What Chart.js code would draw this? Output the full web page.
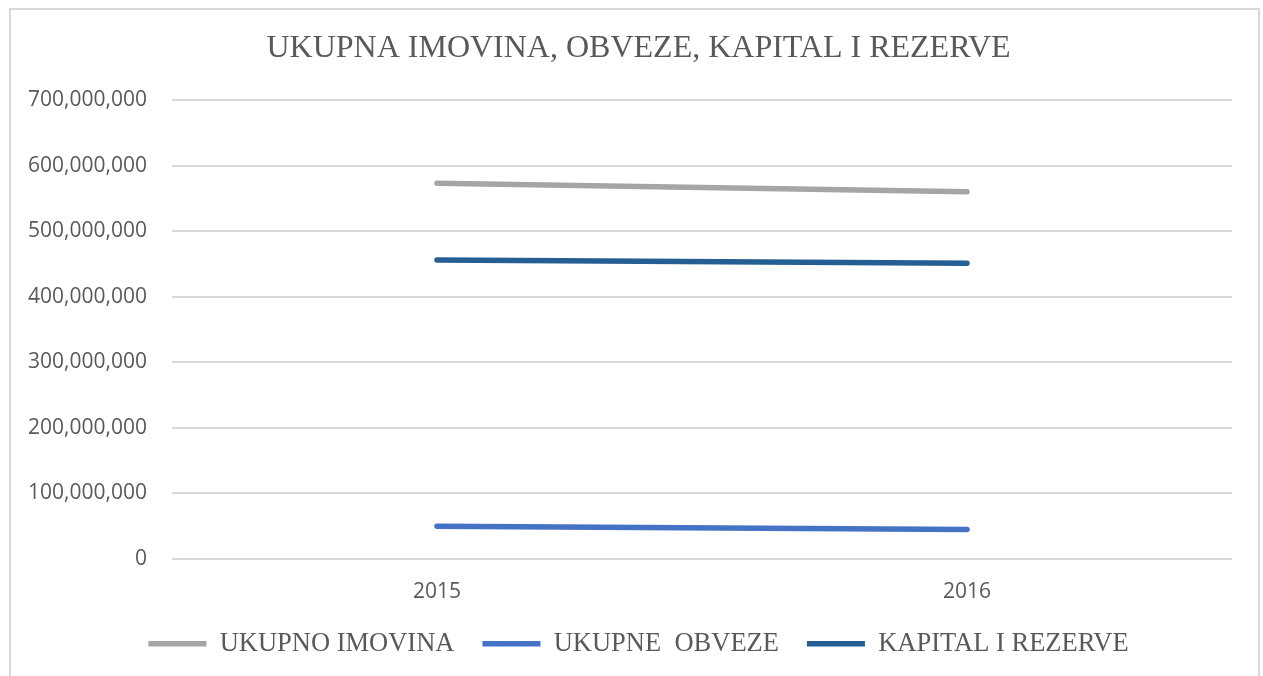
<!DOCTYPE html>
<html>
<head>
<meta charset="utf-8">
<script src="https://cdn.jsdelivr.net/npm/chart.js@4.4.0/dist/chart.umd.min.js"></script>
<style>
  body { margin: 0; background: #fff; }
  #wrap { position: absolute; left: 0; top: 0; width: 1263px; height: 676px; }
  #frame { position: absolute; left: 9px; top: 8px; width: 1251px; height: 720px;
           border: 2px solid #d9d9d9; box-sizing: border-box; pointer-events: none; }
</style>
</head>
<body>
<div id="wrap"><canvas id="chart"></canvas></div>
<div id="frame"></div>
<script>
const years = ['2015', '2016'];
const imovina = [573000000, 560000000];
const obveze = [50000000, 45000000];
const kapital = [456000000, 451000000];

const grey = '#595959';
const ctx = document.getElementById('chart');

new Chart(ctx, {
    type: 'line',
    data: {
        labels: years,
        datasets: [
            {
            label: 'UKUPNO IMOVINA',
            data: imovina,
            borderColor: '#a5a5a5',
            backgroundColor: '#a5a5a5',
            borderWidth: 5.5,
            borderCapStyle: 'round',
            pointRadius: 0,
            },
            {
            label: 'UKUPNE  OBVEZE',
            data: obveze,
            borderColor: '#4472c4',
            backgroundColor: '#4472c4',
            borderWidth: 5.5,
            borderCapStyle: 'round',
            pointRadius: 0,
            },
            {
            label: 'KAPITAL I REZERVE',
            data: kapital,
            borderColor: '#255e91',
            backgroundColor: '#255e91',
            borderWidth: 5.5,
            borderCapStyle: 'round',
            pointRadius: 0,
            }]
        },
    options: {
        responsive: true,
        maintainAspectRatio: false,
        animation: false,
        layout: {
            padding: { left: 14, right: 0, top: 0, bottom: 9 }
        },
        plugins: {
            title: {
                display: true,
                text: 'UKUPNA IMOVINA, OBVEZE, KAPITAL I REZERVE',
                color: grey,
                font: { family: 'Liberation Serif', size: 32, weight: 'normal' },
                padding: { top: 29, bottom: 32.6 }
            },
            legend: {
                position: 'bottom',
                labels: {
                    usePointStyle: true,
                    pointStyle: 'line',
                    pointStyleWidth: 58,
                    padding: 28,
                    color: grey,
                    font: { family: 'Liberation Serif', size: 26.5 }
                }
            },
            tooltip: { enabled: false }
        },
        scales: {
            x: {
                offset: true,
                grid: { display: false, drawTicks: false },
                border: { display: false },
                ticks: {
                    color: grey,
                    padding: 20,
                    font: { family: 'Open Sans', size: 21 }
                },
                afterFit: (scale) => { scale.height = 43.5; }
            },
            y: {
                min: 0,
                max: 700000000,
                grid: { color: '#d9d9d9', lineWidth: 2, drawTicks: false },
                border: { display: false },
                ticks: {
                    stepSize: 100000000,
                    color: grey,
                    padding: 25,
                    font: { family: 'Open Sans', size: 21 },
                    callback: (v) => v.toLocaleString('en-US')
                },
                afterFit: (scale) => { scale.width = 158; }
            },
            // empty axis on the right, only keeps the plot off the frame
            yRight: {
                position: 'right',
                grid: { display: false, drawTicks: false },
                border: { display: false },
                ticks: { display: false },
                afterFit: (scale) => { scale.width = 31; }
            }
        }
    }
});
</script>
</body>
</html>
